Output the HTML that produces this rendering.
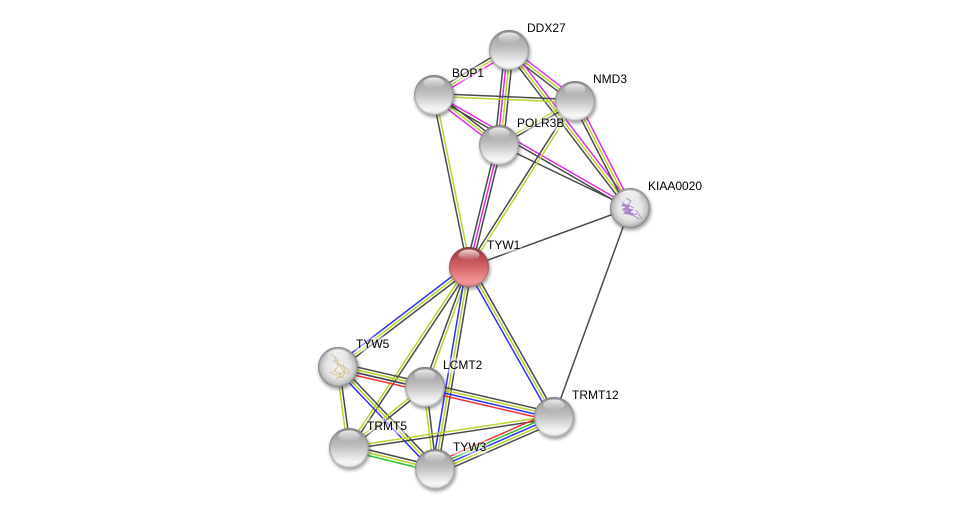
<!DOCTYPE html>
<html>
<head>
<meta charset="utf-8">
<style>
html,body{margin:0;padding:0;background:#fff}
#c{position:relative;width:975px;height:514px;overflow:hidden;background:#fff}
svg{position:absolute;left:0;top:0}
.l{position:absolute;font:12px/13px "Liberation Sans",sans-serif;color:#000;white-space:nowrap;background:rgba(255,255,255,.5);box-shadow:0 0 3px 1px rgba(255,255,255,.5)}
</style>
</head>
<body>
<div id="c">
<svg id="s" width="975" height="514" viewBox="0 0 975 514" xmlns="http://www.w3.org/2000/svg">
<defs>
<linearGradient id="g" x1="0" y1="0" x2="0" y2="1">
<stop offset="0" stop-color="#969696"/><stop offset=".45" stop-color="#bebebe"/><stop offset=".85" stop-color="#f6f6f6"/><stop offset="1" stop-color="#e8e8e8"/>
</linearGradient>
<linearGradient id="r" x1="0" y1="0" x2="0" y2="1">
<stop offset="0" stop-color="#9c3438"/><stop offset=".45" stop-color="#cf5f63"/><stop offset=".85" stop-color="#f49496"/><stop offset="1" stop-color="#e88688"/>
</linearGradient>
<radialGradient id="k" cx=".5" cy=".5" r=".5">
<stop offset="0" stop-color="#f2f2f2"/><stop offset=".6" stop-color="#e4e4e4"/><stop offset=".85" stop-color="#c4c4c4"/><stop offset="1" stop-color="#a8a8a8"/>
</radialGradient>
<linearGradient id="h" x1="0" y1="0" x2="0" y2="1">
<stop offset="0" stop-color="#fff" stop-opacity=".8"/><stop offset="1" stop-color="#fff" stop-opacity="0"/>
</linearGradient>
<radialGradient id="rim" cx=".5" cy=".5" r=".5">
<stop offset=".88" stop-color="#555" stop-opacity="0"/><stop offset=".97" stop-color="#555" stop-opacity=".3"/><stop offset="1" stop-color="#444" stop-opacity=".55"/>
</radialGradient>
<filter id="b" x="-30%" y="-30%" width="160%" height="160%"><feGaussianBlur stdDeviation="1.5"/></filter>
</defs>
<g id="edges" fill="none" stroke-width="1.5"></g>
<g id="nodes"></g>
</svg>
<span class="l" style="left:527px;top:22px">DDX27</span>
<span class="l" style="left:452px;top:67px">BOP1</span>
<span class="l" style="left:593px;top:73px">NMD3</span>
<span class="l" style="left:517px;top:117px">POLR3B</span>
<span class="l" style="left:648px;top:180px">KIAA0020</span>
<span class="l" style="left:487px;top:239px">TYW1</span>
<span class="l" style="left:356px;top:338px">TYW5</span>
<span class="l" style="left:443px;top:359px">LCMT2</span>
<span class="l" style="left:572px;top:389px">TRMT12</span>
<span class="l" style="left:367px;top:420px">TRMT5</span>
<span class="l" style="left:453px;top:441px">TYW3</span>
</div>
<script>
var N={D:[509,50],B:[434,95],M:[575,101],P:[499,145],K:[630,208],T:[469,267],Y:[338,367],L:[425,387],R:[554,417],F:[349,448],W:[435,469]};
var C={k:'#4a4a4a',y:'#b8d42c',m:'#e02ce0',b:'#2f2ff5',r:'#f52f2f',g:'#2fc02f'};
/* colour order: near-horizontal lines list top to bottom, all others list left to right */
var E=[
['D','B','kym'],['D','M','kym'],['D','P','kmyk'],['D','K','kym'],['B','M','ky'],['B','P','myk'],['B','K','km'],
['M','K','kym'],['P','M','yk'],['P','K','k'],['M','T','ky'],['B','T','ky'],['P','T','kmk'],['T','K','k'],['R','K','k'],
['T','Y','byk'],['T','F','yk'],['T','L','ky'],['T','W','byk'],['T','R','byk'],
['Y','R','kybr'],['Y','L','yk'],['Y','F','yk'],['Y','W','byk'],['L','F','yk'],['L','W','yk'],
['F','R','yk'],['F','W','kyg'],['W','R','rgbyk']
];
var NS='http://www.w3.org/2000/svg',eg=document.getElementById('edges'),ng=document.getElementById('nodes');
function el(t,a,p){var e=document.createElementNS(NS,t);for(var k in a)e.setAttribute(k,a[k]);p.appendChild(e);return e}
E.forEach(function(e){
  var a=N[e[0]],b=N[e[1]],c=e[2],dx=b[0]-a[0],dy=b[1]-a[1],L=Math.hypot(dx,dy);
  var nx=-dy/L,ny=dx/L,sp=2.8,flat=Math.abs(dy/dx)<.3;
  if(flat){ if(ny<0){nx=-nx;ny=-ny} }
  else { if(nx<0){nx=-nx;ny=-ny} }
  for(var i=0;i<c.length;i++){
    var o=(i-(c.length-1)/2)*sp;
    el('line',{x1:a[0]+nx*o,y1:a[1]+ny*o,x2:b[0]+nx*o,y2:b[1]+ny*o,stroke:C[c[i]]},eg);
  }
});
function ball(p,fill){
  var x=p[0],y=p[1];
  el('circle',{cx:x+1,cy:y+2,r:20.5,fill:'#333',opacity:.45,filter:'url(#b)'},ng);
  el('circle',{cx:x,cy:y,r:20,fill:'url(#'+fill+')'},ng);
  el('circle',{cx:x,cy:y,r:20,fill:'url(#rim)'},ng);
  el('ellipse',{cx:x,cy:y-12,rx:10.5,ry:5.5,fill:'url(#h)'},ng);
}
Object.keys(N).forEach(function(k){
  ball(N[k],k=='T'?'r':(k=='K'||k=='Y')?'k':'g');
});
/* structure scribbles */
var sk=el('g',{fill:'none',stroke:'#b08acb','stroke-width':1.1,opacity:.85},ng);
el('path',{d:'M622 202l6 5-5 2 8 3-7 1 9 2 6 4M626 198l5 3-3 4 6 3M623 210l8 5 6-1M628 205l2 9M636 210l4 6 2 3'},sk);
el('path',{d:'M622 205l6 1-3 3 6 1-5 3 7 1',stroke:'#9d72c0','stroke-width':2.2},sk);
var sy=el('g',{fill:'none',stroke:'#c9b474','stroke-width':1.1,'stroke-dasharray':'1.4 .8'},ng);
el('path',{d:'M331 354l6 5 3 6 6 3 4 4M335 358l3 8-4 5 5 2 2 5M330 372l6 3 6-2 2 4M343 364l2 8 5 2M336 379l4-3 4 2M333 360l5 4 3 3 4 7'},sy);
</script>
</body>
</html>
